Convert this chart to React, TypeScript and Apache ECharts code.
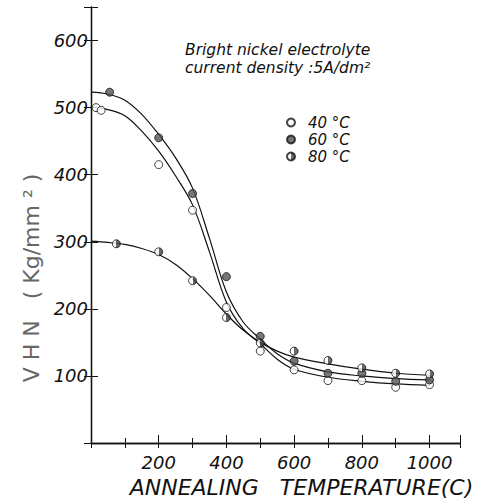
import React, { useEffect, useRef } from "react";
import * as echarts from "echarts";

// Measured points (annealing temperature °C, VHN kg/mm²)
const s40x = [15, 30, 200, 300, 400, 500, 600, 700, 800, 900, 1000];
const s40y = [500, 496, 415, 347, 202, 137, 109, 93, 93, 83, 87];
const s60x = [55, 200, 300, 400, 500, 600, 700, 800, 900, 1000];
const s60y = [523, 455, 372, 248, 159, 122, 104, 104, 92, 94];
const s80x = [75, 200, 300, 400, 500, 600, 700, 800, 900, 1000];
const s80y = [297, 285, 242, 187, 149, 137, 123, 112, 104, 103];

// Fitted curves
const curveX = [0, 50, 100, 150, 200, 250, 300, 350, 400, 450, 500, 550, 600, 700, 800, 900, 1000];
const fit40 = [501, 497, 488, 465, 435, 398, 355, 285, 210, 170, 148, 125, 110, 98, 92, 88, 86];
const fit60 = [523, 520, 511, 490, 460, 425, 380, 305, 225, 180, 155, 133, 119, 106, 100, 96, 94];
const fit80 = [301, 299, 296, 290, 281, 266, 245, 220, 192, 168, 150, 137, 128, 118, 110, 104, 101];

const xTickLabels = [200, 400, 600, 800, 1000];
const yTickLabels = [100, 200, 300, 400, 500, 600];
const seriesNames = ["40 °C", "60 °C", "80 °C"];

const zip = (xs: number[], ys: number[]) => xs.map((x, i) => [x, ys[i]]);

const FONT = "DejaVu Sans";

export default function App() {
  const ref = useRef<HTMLDivElement>(null);
  useEffect(() => {
    document.body.style.margin = "0";
    if (!ref.current) return;
    const chart = echarts.init(ref.current, undefined, { renderer: "svg" });
    const axisLine = { show: true, lineStyle: { color: "#111", width: 1.3 } };
    const halfFill = new echarts.graphic.LinearGradient(0, 0, 1, 0, [
      { offset: 0, color: "#ffffff" },
      { offset: 0.5, color: "#ffffff" },
      { offset: 0.5, color: "#444444" },
      { offset: 1, color: "#444444" },
    ]);
    const curve = (data: number[]) => ({
      type: "line",
      data: zip(curveX, data),
      smooth: 0.35,
      showSymbol: false,
      symbol: "none",
      silent: true,
      lineStyle: { color: "#111", width: 1.2 },
      z: 2,
    });
    const markBorder = { borderColor: "#111", borderWidth: 1 };
    chart.setOption({
      animation: false,
      backgroundColor: "#ffffff",
      grid: { left: 91, top: 7, right: 22, bottom: 61 },
      title: {
        text: "Bright nickel electrolyte\ncurrent density :5A/dm²",
        left: 180,
        top: 36,
        textStyle: {
          fontFamily: FONT,
          fontStyle: "italic",
          fontWeight: "normal",
          fontSize: 15.5,
          lineHeight: 18,
          color: "#111",
        },
      },
      legend: {
        data: seriesNames,
        orient: "vertical",
        left: 281,
        top: 110,
        itemWidth: 8,
        itemHeight: 8,
        itemGap: 2,
        textStyle: {
          fontFamily: FONT,
          fontStyle: "italic",
          fontSize: 15,
          lineHeight: 14,
          color: "#111",
          padding: [0, 0, 0, 8],
        },
      },
      xAxis: [
        {
          type: "value",
          min: 0,
          max: 1090,
          interval: 200,
          position: "bottom",
          name: "ANNEALING   TEMPERATURE(C)",
          nameLocation: "middle",
          nameGap: 33,
          nameTextStyle: {
            fontFamily: FONT,
            fontStyle: "italic",
            fontSize: 22,
            color: "#111",
            padding: [0, 0, 0, 52],
          },
          axisLine,
          axisTick: { show: true, inside: true, length: 8, lineStyle: { color: "#111" } },
          minorTick: { show: true, splitNumber: 2, length: 5, lineStyle: { color: "#111" } },
          splitLine: { show: false },
          axisLabel: {
            fontFamily: FONT,
            fontStyle: "italic",
            fontSize: 18,
            color: "#111",
            margin: 10,
            formatter: (v: number) => (xTickLabels.includes(v) ? String(v) : ""),
          },
        },
        {
          type: "value",
          min: 0,
          max: 1090,
          interval: 100,
          position: "top",
          axisLine,
          axisTick: { show: true, inside: true, length: 5, lineStyle: { color: "#111" } },
          splitLine: { show: false },
          axisLabel: { show: false },
        },
      ],
      yAxis: [
        {
          type: "value",
          min: 0,
          max: 650,
          interval: 100,
          position: "left",
          name: "V H N   ( Kg/mm ² )",
          nameLocation: "middle",
          nameGap: 49,
          nameTextStyle: {
            fontFamily: FONT,
            fontSize: 22,
            color: "#666",
            padding: [0, 106, 0, 0],
          },
          axisLine,
          axisTick: { show: true, inside: true, length: 7, lineStyle: { color: "#111" } },
          splitLine: { show: false },
          axisLabel: {
            fontFamily: FONT,
            fontStyle: "italic",
            fontSize: 18,
            color: "#111",
            margin: 3,
            formatter: (v: number) => (yTickLabels.includes(v) ? String(v) : ""),
          },
        },
        {
          type: "value",
          min: 0,
          max: 650,
          interval: 100,
          position: "right",
          axisLine,
          axisTick: { show: true, inside: true, length: 7, lineStyle: { color: "#111" } },
          splitLine: { show: false },
          axisLabel: { show: false },
        },
      ],
      series: [
        curve(fit40),
        curve(fit60),
        curve(fit80),
        {
          name: seriesNames[0],
          type: "scatter",
          data: zip(s40x, s40y),
          symbol: "circle",
          symbolSize: 8,
          itemStyle: { color: "#ffffff", ...markBorder },
          z: 3,
        },
        {
          name: seriesNames[1],
          type: "scatter",
          data: zip(s60x, s60y),
          symbol: "circle",
          symbolSize: 8,
          itemStyle: { color: "#555555", ...markBorder },
          z: 3,
        },
        {
          name: seriesNames[2],
          type: "scatter",
          data: zip(s80x, s80y),
          symbol: "circle",
          symbolSize: 8,
          itemStyle: { color: halfFill, ...markBorder },
          z: 3,
        },
      ],
    });
    return () => chart.dispose();
  }, []);
  return <div ref={ref} style={{ width: 482, height: 504 }} />;
}
